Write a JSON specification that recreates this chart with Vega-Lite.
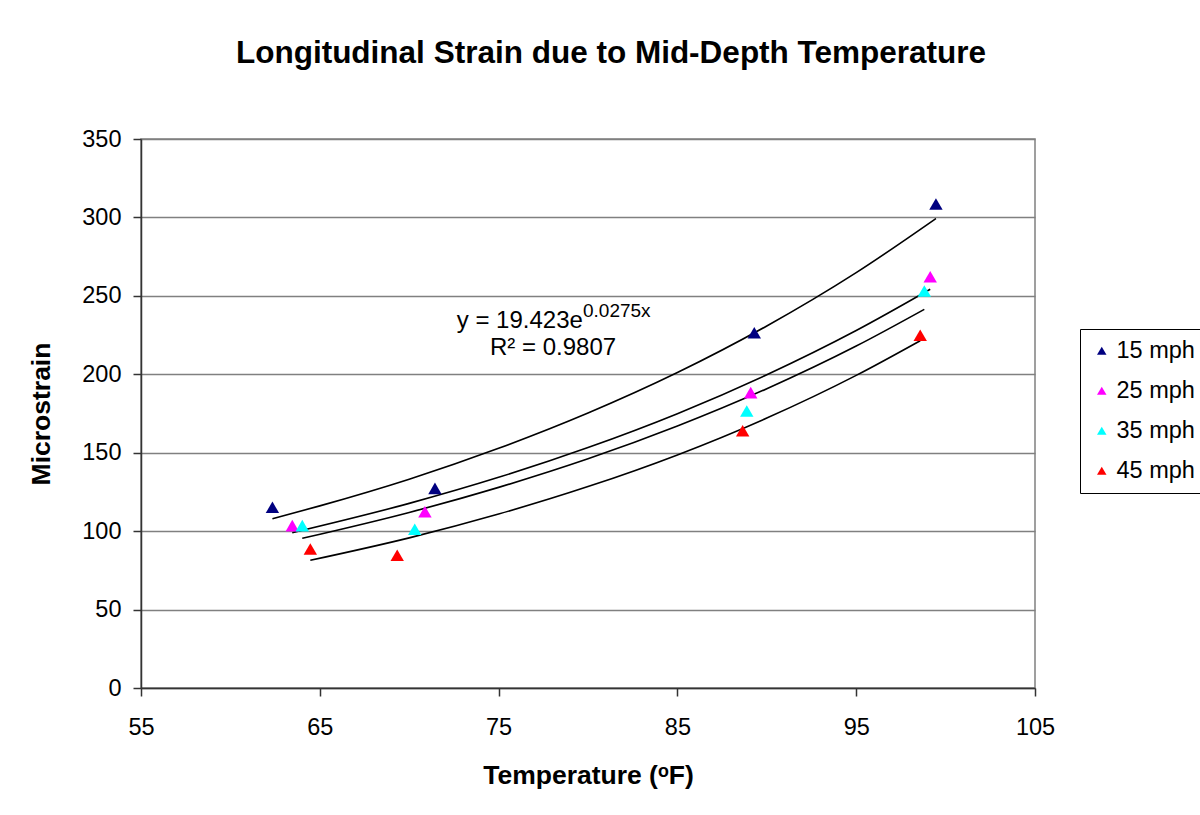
{
  "$schema": "https://vega.github.io/schema/vega-lite/v6.json",
  "width": 894,
  "height": 549,
  "autosize": {"type": "none"},
  "padding": {"left": 141, "top": 139, "right": 165, "bottom": 127},
  "background": "white",
  "title": {
    "text": "Longitudinal Strain due to Mid-Depth Temperature",
    "font": "Liberation Sans",
    "fontSize": 31.5,
    "fontWeight": "bold",
    "color": "black",
    "anchor": "middle",
    "dx": 23,
    "offset": 58
  },
  "config": {
    "view": {"stroke": "#808080", "strokeWidth": 1.5},
    "font": "Liberation Sans",
    "axis": {
      "labelFont": "Liberation Sans",
      "labelFontSize": 23.5,
      "labelColor": "black",
      "labelFlush": false,
      "titleFont": "Liberation Sans",
      "titleFontSize": 26.5,
      "titleFontWeight": "bold",
      "titleColor": "black",
      "domainColor": "#333333",
      "domainWidth": 1.5,
      "tickColor": "#333333",
      "tickSize": 8,
      "tickWidth": 1.5,
      "gridColor": "#808080",
      "gridWidth": 1.5
    }
  },
  "datasets": {
    "points": [
      {"speed": "15 mph", "temp": 62.35, "strain": 115.2},
      {"speed": "15 mph", "temp": 71.44, "strain": 127.3},
      {"speed": "15 mph", "temp": 89.30, "strain": 226.5},
      {"speed": "15 mph", "temp": 99.46, "strain": 308.6},
      {"speed": "25 mph", "temp": 63.46, "strain": 103.5},
      {"speed": "25 mph", "temp": 70.88, "strain": 112.4},
      {"speed": "25 mph", "temp": 89.10, "strain": 188.3},
      {"speed": "25 mph", "temp": 99.14, "strain": 262.2},
      {"speed": "35 mph", "temp": 64.02, "strain": 103.5},
      {"speed": "35 mph", "temp": 70.31, "strain": 101.2},
      {"speed": "35 mph", "temp": 88.88, "strain": 176.6},
      {"speed": "35 mph", "temp": 98.81, "strain": 253.1},
      {"speed": "45 mph", "temp": 64.47, "strain": 88.6},
      {"speed": "45 mph", "temp": 69.33, "strain": 84.6},
      {"speed": "45 mph", "temp": 88.65, "strain": 164.0},
      {"speed": "45 mph", "temp": 98.58, "strain": 224.9}
    ],
    "trend": [
      {"speed": "15 mph", "temp": 62.35, "strain": 107.9},
      {"speed": "15 mph", "temp": 65, "strain": 116.1},
      {"speed": "15 mph", "temp": 70, "strain": 133.1},
      {"speed": "15 mph", "temp": 75, "strain": 152.8},
      {"speed": "15 mph", "temp": 80, "strain": 175.3},
      {"speed": "15 mph", "temp": 85, "strain": 201.1},
      {"speed": "15 mph", "temp": 90, "strain": 230.8},
      {"speed": "15 mph", "temp": 95, "strain": 264.8},
      {"speed": "15 mph", "temp": 99.46, "strain": 299.3},
      {"speed": "25 mph", "temp": 63.46, "strain": 99.0},
      {"speed": "25 mph", "temp": 70, "strain": 117.7},
      {"speed": "25 mph", "temp": 75, "strain": 134.3},
      {"speed": "25 mph", "temp": 80, "strain": 153.3},
      {"speed": "25 mph", "temp": 85, "strain": 174.9},
      {"speed": "25 mph", "temp": 90, "strain": 199.7},
      {"speed": "25 mph", "temp": 95, "strain": 227.9},
      {"speed": "25 mph", "temp": 99.14, "strain": 254.2},
      {"speed": "35 mph", "temp": 64.02, "strain": 95.4},
      {"speed": "35 mph", "temp": 70, "strain": 111.9},
      {"speed": "35 mph", "temp": 75, "strain": 127.9},
      {"speed": "35 mph", "temp": 80, "strain": 146.1},
      {"speed": "35 mph", "temp": 85, "strain": 167.0},
      {"speed": "35 mph", "temp": 90, "strain": 190.8},
      {"speed": "35 mph", "temp": 95, "strain": 218.0},
      {"speed": "35 mph", "temp": 98.81, "strain": 241.4},
      {"speed": "45 mph", "temp": 64.47, "strain": 81.4},
      {"speed": "45 mph", "temp": 70, "strain": 95.7},
      {"speed": "45 mph", "temp": 75, "strain": 110.9},
      {"speed": "45 mph", "temp": 80, "strain": 128.4},
      {"speed": "45 mph", "temp": 85, "strain": 148.6},
      {"speed": "45 mph", "temp": 90, "strain": 172.1},
      {"speed": "45 mph", "temp": 95, "strain": 199.3},
      {"speed": "45 mph", "temp": 98.58, "strain": 221.4}
    ],
    "note": [
      {"label": "y = 19.423e", "part": "main"}
    ]
  },
  "layer": [
    {
      "data": {"name": "trend"},
      "mark": {"type": "line", "color": "black", "strokeWidth": 1.6, "interpolate": "monotone"},
      "encoding": {
        "x": {
          "field": "temp", "type": "quantitative",
          "scale": {"domain": [55, 105], "nice": false, "zero": false},
          "axis": {
            "title": "Temperature (ᵒF)",
            "values": [55, 65, 75, 85, 95, 105],
            "grid": false,
            "labelPadding": 19,
            "titlePadding": 24
          }
        },
        "y": {
          "field": "strain", "type": "quantitative",
          "scale": {"domain": [0, 350], "nice": false},
          "axis": {
            "title": "Microstrain",
            "values": [0, 50, 100, 150, 200, 250, 300, 350],
            "labelPadding": 12,
            "titlePadding": 26
          }
        },
        "detail": {"field": "speed"}
      }
    },
    {
      "data": {"name": "points"},
      "mark": {"type": "point", "shape": "triangle-up", "filled": true, "opacity": 1, "size": 180},
      "encoding": {
        "x": {"field": "temp", "type": "quantitative"},
        "y": {"field": "strain", "type": "quantitative"},
        "color": {
          "field": "speed", "type": "nominal",
          "scale": {"domain": ["15 mph", "25 mph", "35 mph", "45 mph"], "range": ["#000080", "#FF00FF", "#00FFFF", "#FF0000"]},
          "legend": {
            "title": null,
            "orient": "none",
            "legendX": 939,
            "legendY": 190,
            "strokeColor": "black",
            "fillColor": "white",
            "padding": 10,
            "labelFont": "Liberation Sans",
            "labelFontSize": 23.5,
            "labelColor": "black",
            "symbolSize": 90,
            "symbolType": "triangle-up",
            "rowPadding": 15,
            "labelOffset": 3
          }
        }
      }
    },
    {
      "data": {"name": "note"},
      "mark": {"type": "text", "align": "left", "baseline": "alphabetic", "fontSize": 24, "font": "Liberation Sans", "color": "black"},
      "encoding": {
        "x": {"datum": 72.66},
        "y": {"datum": 229.5},
        "text": {"value": "y = 19.423e"}
      }
    },
    {
      "data": {"name": "note"},
      "mark": {"type": "text", "align": "left", "baseline": "alphabetic", "fontSize": 19, "font": "Liberation Sans", "color": "black"},
      "encoding": {
        "x": {"datum": 79.72},
        "y": {"datum": 236.5},
        "text": {"value": "0.0275x"}
      }
    },
    {
      "data": {"name": "note"},
      "mark": {"type": "text", "align": "left", "baseline": "alphabetic", "fontSize": 24, "font": "Liberation Sans", "color": "black"},
      "encoding": {
        "x": {"datum": 74.52},
        "y": {"datum": 212.0},
        "text": {"value": "R² = 0.9807"}
      }
    }
  ]
}
